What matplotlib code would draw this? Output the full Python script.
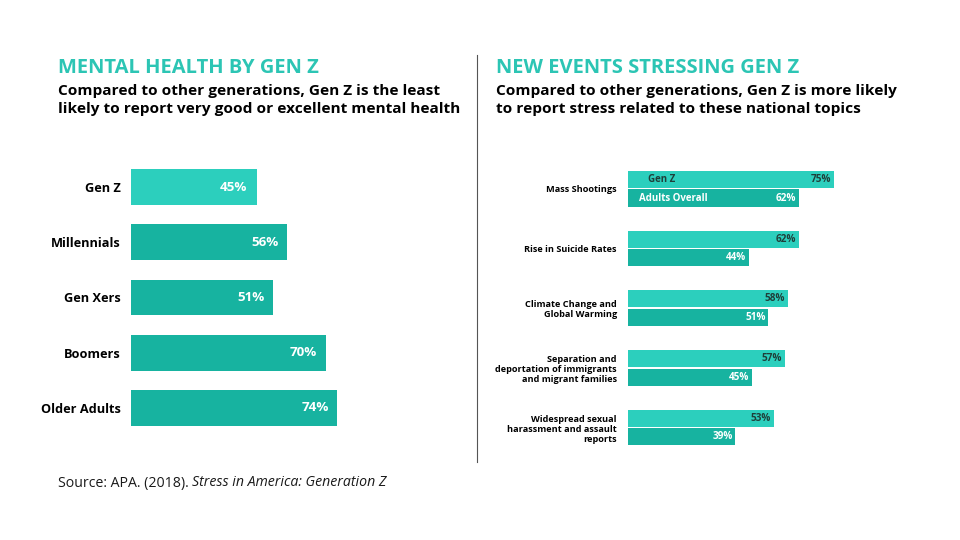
import matplotlib
matplotlib.use("Agg")
import matplotlib.pyplot as plt

plt.rcParams['font.family'] = ['Open Sans', 'DejaVu Sans']

# left chart data
gen_labels = ['Gen Z', 'Millennials', 'Gen Xers', 'Boomers', 'Older Adults']
gen_values = [45, 56, 51, 70, 74]

# right chart data
topics = ['Mass Shootings', 'Rise in Suicide Rates', 'Climate Change and\nGlobal Warming',
          'Separation and\ndeportation of immigrants\nand migrant families',
          'Widespread sexual\nharassment and assault\nreports']
genz_values = [75, 62, 58, 57, 53]
adult_values = [62, 44, 51, 45, 39]
series_names = ['Gen Z', 'Adults Overall']

LIGHT = '#2ccfbd'
DARK = '#17b3a0'
TITLE = '#2cc5b4'
DARKTXT = '#1f3f3a'

W, H = 960, 540
fig = plt.figure(figsize=(9.6, 5.4), dpi=100)
fig.patch.set_facecolor('white')


def px_axes(x0, y0, x1, y1):
    # pixel box (top-left origin) -> figure axes
    return fig.add_axes([x0 / W, 1 - y1 / H, (x1 - x0) / W, (y1 - y0) / H])


# ---------- titles ----------
fig.text(58 / W, 1 - 68 / H, 'MENTAL HEALTH BY GEN Z', color=TITLE, fontsize=14.5,
         fontweight='bold', va='center', ha='left')
fig.text(58 / W, 1 - 100 / H, 'Compared to other generations, Gen Z is the least\n'
         'likely to report very good or excellent mental health',
         fontsize=11.1, fontweight='bold', va='center', ha='left', linespacing=1.4)
fig.text(496 / W, 1 - 68 / H, 'NEW EVENTS STRESSING GEN Z', color=TITLE, fontsize=14.5,
         fontweight='bold', va='center', ha='left')
fig.text(496 / W, 1 - 100 / H, 'Compared to other generations, Gen Z is more likely\n'
         'to report stress related to these national topics',
         fontsize=11.1, fontweight='bold', va='center', ha='left', linespacing=1.4)

# divider
fig.add_artist(plt.Line2D([477 / W, 477 / W], [1 - 55 / H, 1 - 462 / H],
                          color='#555555', lw=0.8))

# ---------- left chart ----------
ax1 = px_axes(131, 159.4, 410, 435.6)
ypos = list(range(len(gen_values)))
colors1 = [LIGHT] + [DARK] * (len(gen_values) - 1)
ax1.barh(ypos, gen_values, height=0.65, color=colors1)
for y, v in zip(ypos, gen_values):
    ax1.text(v - 3.2, y, f'{v}%', color='white', fontsize=9.6, fontweight='bold',
             ha='right', va='center')
ax1.set_xlim(0, 100)
ax1.set_ylim(4.5, -0.5)
ax1.set_yticks(ypos)
ax1.set_yticklabels(gen_labels, fontsize=9.2, fontweight='bold')
ax1.tick_params(axis='y', length=0, pad=7.5)
ax1.set_xticks([])
for s in ax1.spines.values():
    s.set_visible(False)
ax1.patch.set_alpha(0)

# ---------- right chart ----------
ax2 = px_axes(628, 158.9, 903, 457.4)
gpos = list(range(len(topics)))
off = 0.155
bh = 0.285
ax2.barh([g - off for g in gpos], genz_values, height=bh, color=LIGHT, label=series_names[0])
ax2.barh([g + off for g in gpos], adult_values, height=bh, color=DARK, label=series_names[1])
for g, v in zip(gpos, genz_values):
    ax2.text(v - 1.0, g - off, f'{v}%', color=DARKTXT, fontsize=7.2, fontweight='bold',
             ha='right', va='center')
for g, v in zip(gpos, adult_values):
    ax2.text(v - 1.0, g + off, f'{v}%', color='white', fontsize=7.2, fontweight='bold',
             ha='right', va='center')
ax2.text(7.3, -off, series_names[0], color=DARKTXT, fontsize=7.0, fontweight='bold',
         ha='left', va='center')
ax2.text(4.0, off, series_names[1], color='white', fontsize=7.0, fontweight='bold',
         ha='left', va='center')
ax2.set_xlim(0, 100)
ax2.set_ylim(4.5, -0.5)
ax2.set_yticks(gpos)
ax2.set_yticklabels(topics, fontsize=6.6, fontweight='bold', linespacing=1.15)
ax2.tick_params(axis='y', length=0, pad=8)
ax2.set_xticks([])
for s in ax2.spines.values():
    s.set_visible(False)
ax2.patch.set_alpha(0)

# ---------- source ----------
src = fig.text(58 / W, 1 - 483 / H, 'Source: APA. (2018). ', fontsize=10.2, color='#1a1a1a',
               va='center', ha='left')
ax_over = fig.add_axes([0, 0, 1, 1])
ax_over.axis('off')
ax_over.annotate('Stress in America: Generation Z', xy=(1, 0.5), xycoords=src,
                 fontsize=10.2, style='italic', color='#1a1a1a', va='center', ha='left')

fig.savefig('out.png', dpi=100)
